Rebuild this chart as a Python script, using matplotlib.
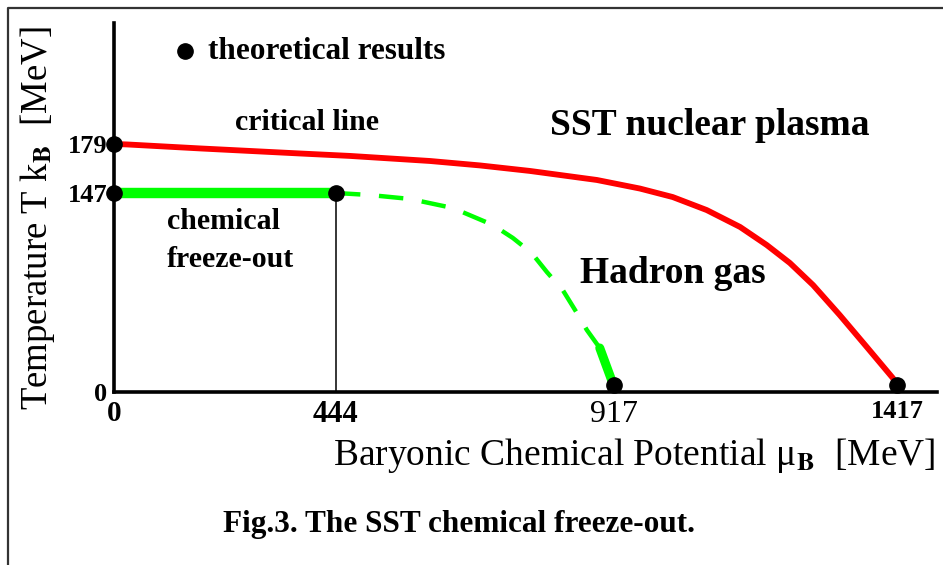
import numpy as np
import matplotlib
matplotlib.use("Agg")
import matplotlib.pyplot as plt
from matplotlib.lines import Line2D

plt.rcParams["font.family"] = ["Liberation Serif", "DejaVu Serif"]
plt.rcParams["mathtext.fontset"] = "stix"

# tick values and labels
mu_ticks = [0, 444, 917, 1417]
mu_tick_labels = ["0", "444", "917", "1417"]
t_ticks = [0, 147, 179]
t_tick_labels = ["0", "147", "179"]

# critical line (red)
crit_mu = [0, 26, 172, 372, 468, 604, 689, 774, 888, 963, 1021, 1081, 1140,
           1187, 1228, 1269, 1316, 1364, 1410, 1417]
crit_T = [179, 178.7, 176.1, 172.8, 171.2, 167.9, 165.0, 161.4, 155.5, 149.9, 144.0, 134.4, 121.9,
          108.6, 95.3, 79.0, 56.9, 33.2, 10.3, 5]

# chemical freeze-out (solid green)
freeze_mu = [0, 444]
freeze_T = [147, 147]

# continuation of the freeze-out curve (dashed green)
extrap_mu = [444, 502, 570, 643, 711, 745, 777, 803, 830, 854, 871, 893, 915, 917]
extrap_T = [147, 145.5, 142.6, 135.9, 123.4, 113.8, 102.7, 88.6, 75.3, 58.4, 45.8, 32.5, 6.6, 4]

# theoretical results (black dots)
res_mu = [0, 0, 444, 917, 1417]
res_T = [179, 147, 147, 5, 5]

# the original axes are not drawn to scale -> piecewise linear scale
x_knots = [0, 444, 917, 1417, 1600]
x_pos = [0, 222, 500, 783, 886.6]
y_knots = [0, 147, 179, 300]
y_pos = [0, 199, 248, 433.3]


def x_fwd(v):
    return np.interp(v, x_knots, x_pos)


def x_inv(p):
    return np.interp(p, x_pos, x_knots)


def y_fwd(v):
    return np.interp(v, y_knots, y_pos)


def y_inv(p):
    return np.interp(p, y_pos, y_knots)


W, H = 943, 565
fig = plt.figure(figsize=(W / 100, H / 100), dpi=100)
ax = fig.add_axes([114 / W, 1 - 392 / H, 823 / W, 369 / H])
ax.set_xscale("function", functions=(x_fwd, x_inv))
ax.set_yscale("function", functions=(y_fwd, y_inv))
ax.set_xlim(0, 1488)
ax.set_ylim(0, 258)

for s in ["top", "right"]:
    ax.spines[s].set_visible(False)
for s in ["left", "bottom"]:
    ax.spines[s].set_linewidth(2.6)
    ax.spines[s].set_color("black")

# curves
ax.plot(crit_mu, crit_T, color="#ff0000", lw=4.2, solid_capstyle="butt",
        solid_joinstyle="round", zorder=3)
ax.plot(freeze_mu, freeze_T, color="#00ff00", lw=7.5, solid_capstyle="butt", zorder=3)
ax.plot(extrap_mu, extrap_T, color="#00ff00", lw=3.2, dashes=(5.5, 4.2), zorder=3)
ax.plot(extrap_mu[-3:], extrap_T[-3:], color="#00ff00", lw=6.5, solid_capstyle="round", zorder=3)

# thin vertical line below 444
ax.plot([freeze_mu[1], freeze_mu[1]], [0, freeze_T[1]], color="black", lw=1.1, zorder=2)

ax.plot(res_mu, res_T, "o", color="black", ms=11, clip_on=False, zorder=5)

# legend dot
ax.plot([142], [240], "o", color="black", ms=11, clip_on=False, zorder=5)

# ticks
ax.set_xticks(mu_ticks)
ax.set_xticklabels(mu_tick_labels)
ax.set_yticks(t_ticks)
ax.set_yticklabels(t_tick_labels)
ax.tick_params(axis="both", length=0)
ax.tick_params(axis="x", pad=6)
ax.tick_params(axis="y", pad=5)
x_styles = [("bold", 21), ("bold", 22), ("normal", 23), ("bold", 19)]
for lab, (w, sz) in zip(ax.get_xticklabels(), x_styles):
    lab.set_fontweight(w)
    lab.set_fontsize(sz)
for lab in ax.get_yticklabels():
    lab.set_fontweight("bold")
    lab.set_fontsize(19)

# axis labels
ax.set_xlabel(r"Baryonic Chemical Potential μ$_{\mathbf{B}}$  [MeV]", fontsize=27, loc="right")
ax.xaxis.set_label_coords(1 - 2 / 823, -44 / 369)
ax.set_ylabel(r"Temperature T k$_{\mathbf{B}}$  [MeV]", fontsize=26.5, va="center")
ax.yaxis.set_label_coords(-76 / 823, (392 - 218) / 369)


def ftext(px, py, s, **kw):
    fig.text(px / W, 1 - py / H, s, **kw)


ftext(208, 59, "theoretical results", fontsize=22.5, fontweight="bold", va="baseline")
ftext(235, 130, "critical line", fontsize=21.5, fontweight="bold", va="baseline")
ftext(550, 135, "SST nuclear plasma", fontsize=27, fontweight="bold", va="baseline")
ftext(167, 229, "chemical", fontsize=21.5, fontweight="bold", va="baseline")
ftext(167, 267, "freeze-out", fontsize=21.5, fontweight="bold", va="baseline")
ftext(580, 283, "Hadron gas", fontsize=27, fontweight="bold", va="baseline")
ftext(223, 532, "Fig.3. The SST chemical freeze-out.", fontsize=22.5, fontweight="bold", va="baseline")

# page frame (left and top edges)
fig.add_artist(Line2D([8 / W, 8 / W, 1], [0, 1 - 8 / H, 1 - 8 / H], transform=fig.transFigure,
                      color="#333333", lw=1.6))

fig.savefig("out.png", dpi=100)
